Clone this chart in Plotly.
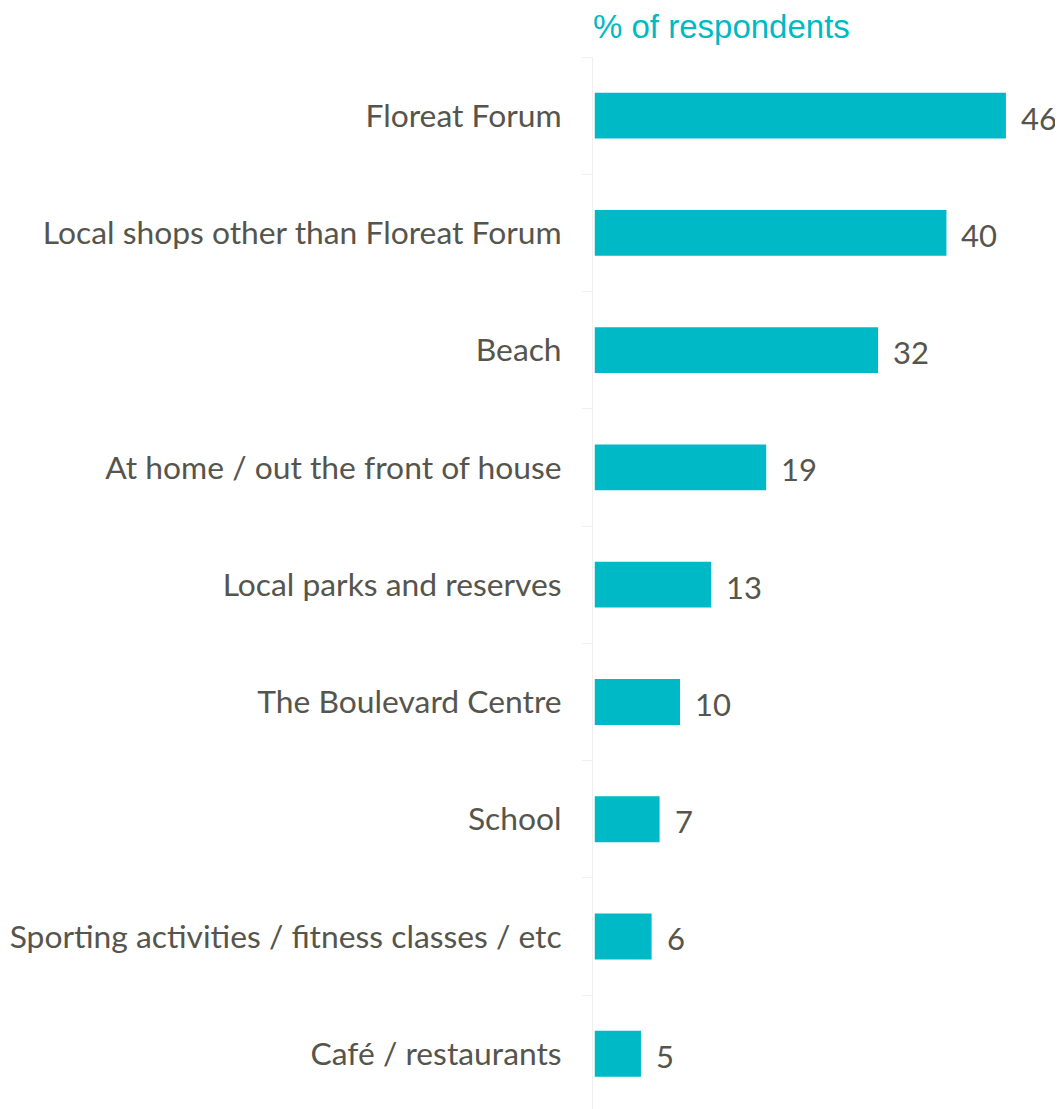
import plotly.graph_objects as go

categories = [
    "Floreat Forum",
    "Local shops other than Floreat Forum",
    "Beach",
    "At home / out the front of house",
    "Local parks and reserves",
    "The Boulevard Centre",
    "School",
    "Sporting activities / fitness classes / etc",
    "Café / restaurants",
]
values = [46.3, 39.6, 31.9, 19.3, 13.1, 9.6, 7.3, 6.4, 5.2]
value_labels = ["46", "40", "32", "19", "13", "10", "7", "6", "5"]

TEAL = "#00B9C6"
GREY = "#55554D"

fig = go.Figure()
fig.add_trace(go.Bar(
    x=values, y=categories, orientation="h",
    marker=dict(color=TEAL, line=dict(width=0)),
    hoverinfo="skip",
    cliponaxis=False,
))

for c, v, t in zip(categories, values, value_labels):
    fig.add_annotation(x=v, y=c, text=t, showarrow=False, xanchor="left",
                       xshift=13, yshift=-2,
                       font=dict(family="Lato", size=31, color=GREY))

fig.add_annotation(xref="paper", yref="paper", x=0, y=1, xanchor="left", yanchor="bottom",
                   xshift=-1, yshift=11, borderpad=0,
                   text="% of respondents", showarrow=False,
                   font=dict(family="Liberation Sans, Arial", size=33, color=TEAL))

# page body has an 8px margin, so the figure is placed at (8, 8)
fig.update_layout(
    width=1055, height=1101,
    margin=dict(l=585, r=6, t=49, b=0),
    paper_bgcolor="white", plot_bgcolor="white",
    bargap=0.608,
    showlegend=False,
    xaxis=dict(range=[-0.2, 52.05], visible=False),
    yaxis=dict(
        type="category",
        range=[8.472, -0.5],
        automargin=False,
        showline=True, linecolor="#F0F0F0", linewidth=1,
        ticks="outside", tickson="boundaries", ticklen=10, tickcolor="#F0F0F0",
        ticklabelstandoff=24,
        showgrid=False,
        tickfont=dict(family="Lato", size=31.8, color=GREY),
    ),
)

fig.write_html("out.html")
